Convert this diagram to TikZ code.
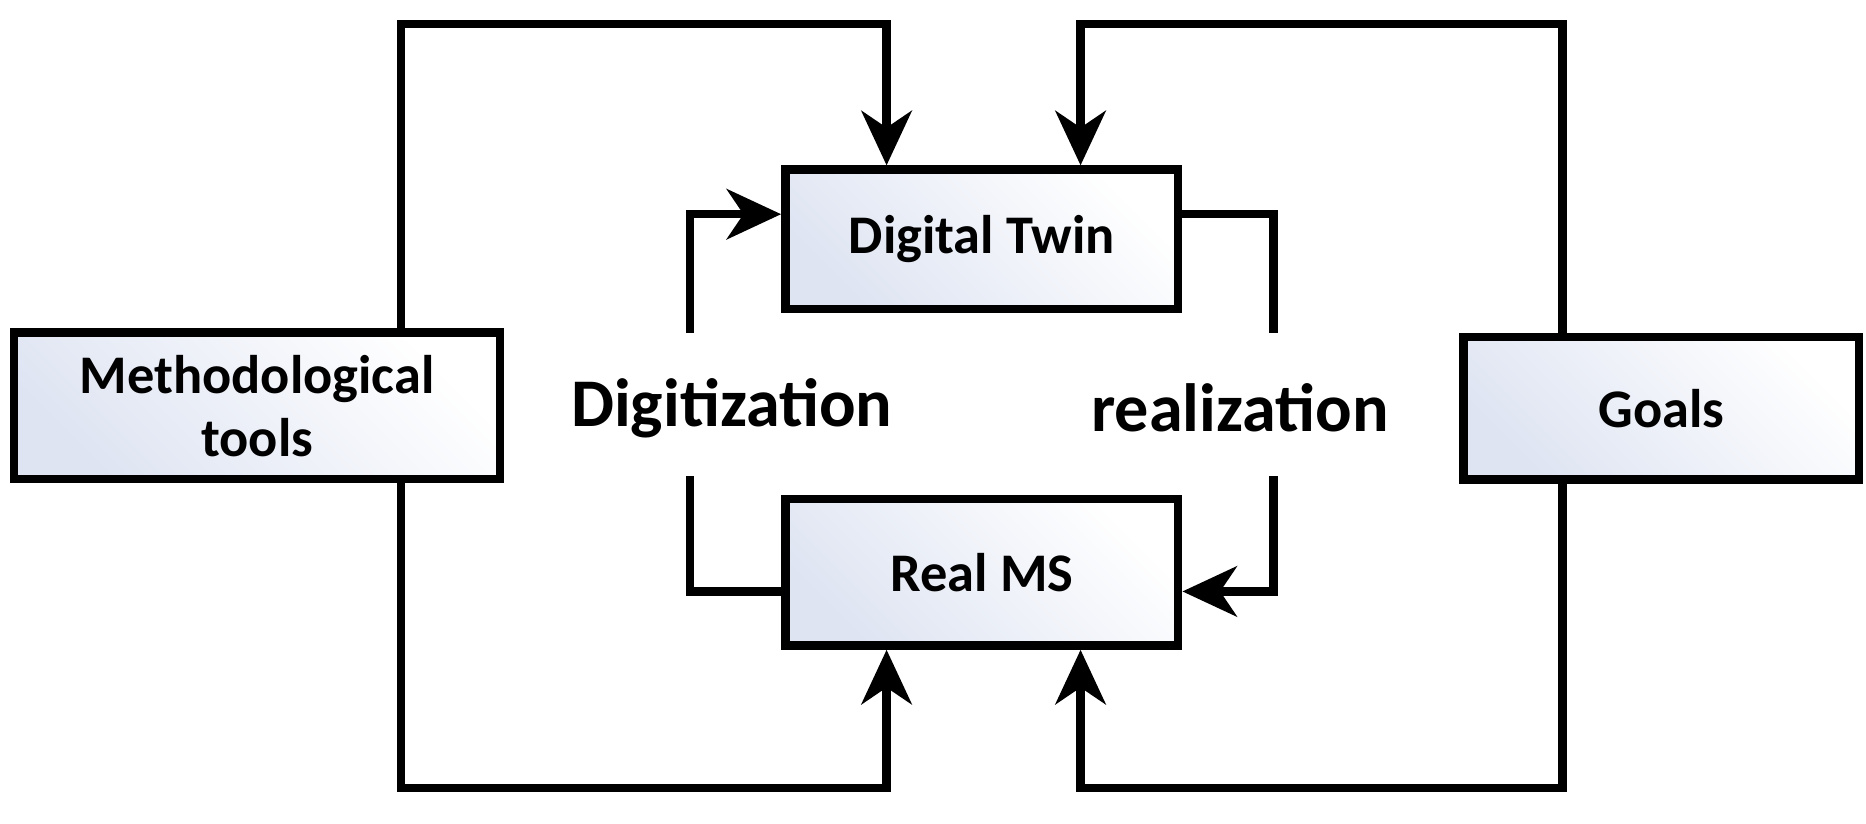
\documentclass[tikz,border=0pt]{standalone}
\usepackage{fontspec}
\setmainfont{Carlito}
\usetikzlibrary{arrows.meta}
\begin{document}
\begin{tikzpicture}[x=0.01cm,y=-0.01cm,
 box/.style={draw=black,line width=2pt,left color={rgb,255:red,222;green,228;blue,242},right color=white,shading angle=135,font=\bfseries\fontsize{13}{15}\selectfont,align=center,inner sep=0},
 ln/.style={line width=2pt,line join=miter},
 ar/.style={ln,-{Stealth[length=13pt,width=12pt,inset=4pt]}},
 lab/.style={font=\bfseries\fontsize{16.3}{18}\selectfont}]
\useasboundingbox (0,0) rectangle (1568,692);
\node[box,minimum width=3.3cm,minimum height=1.17cm] (dt) at (825,201) {Digital Twin};
\node[box,minimum width=3.3cm,minimum height=1.23cm] (ms) at (825,481) {Real MS};
\node[box,minimum width=4.08cm,minimum height=1.23cm] (mt) at (216,341) {Methodological\\tools};
\node[box,minimum width=3.32cm,minimum height=1.2cm] (go) at (1396,343) {Goals};
\coordinate (a1) at (337,20); \coordinate (a2) at (745,20);
\coordinate (b1) at (1313,20); \coordinate (b2) at (908,20);
\coordinate (c1) at (337,662); \coordinate (c2) at (745,662);
\coordinate (d1) at (1313,662); \coordinate (d2) at (908,662);
\draw[ar] (mt.north -| a1) -- (a1) -- (a2) -- (dt.north -| a2);
\draw[ar] (go.north -| b1) -- (b1) -- (b2) -- (dt.north -| b2);
\draw[ar] (mt.south -| c1) -- (c1) -- (c2) -- (ms.south -| c2);
\draw[ar] (go.south -| d1) -- (d1) -- (d2) -- (ms.south -| d2);
\coordinate (g1) at (580,400); \coordinate (g2) at (580,280);
\coordinate (h1) at (1070,280); \coordinate (h2) at (1070,400);
\draw[ln] (ms.west |- 0,497) -- (580,497) -- (g1);
\draw[ar] (g2) -- (580,180) -- (dt.west |- 0,180);
\draw[ln] (dt.east |- 0,180) -- (1070,180) -- (h1);
\draw[ar] (h2) -- (1070,497) -- (ms.east |- 0,497);
\node[lab] (dg) at (615,343) {Digitization};
\node[lab] (rz) at (1042,343) {realization};
\end{tikzpicture}
\end{document}
